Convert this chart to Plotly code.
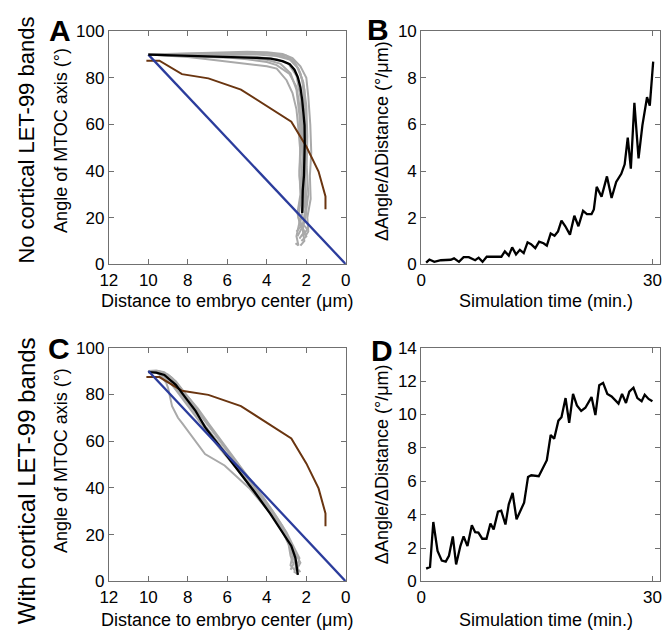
import plotly.graph_objects as go

W, H = 671, 640

# ---------------- data ----------------
# reference curves shared by A and C (distance in um, angle in deg)
brown_x = [10.1, 9.44, 8.3, 6.96, 5.31, 2.76, 2.0, 1.38, 1.03, 1.03]
brown_y = [87.4, 87.4, 81.6, 79.8, 75.0, 61.2, 50.5, 39.8, 29.1, 23.6]
blue_x = [10, 0]
blue_y = [90, 0]

# Panel A: individual simulated trajectories (gray) and mean (black)
a_gray_x = [
    [10, 8, 6, 5, 4, 3.2, 2.7, 2.3, 2.0, 1.9, 1.8, 1.75, 1.82, 1.78, 1.95, 1.9, 2.05],
    [10, 8, 6, 4.5, 3.5, 2.8, 2.4, 2.15, 2.0, 1.95, 1.98, 1.9, 2.05, 2.2, 2.0, 2.25],
    [10, 8, 6, 4.5, 3.5, 2.9, 2.5, 2.3, 2.2, 2.15, 2.2, 2.1, 2.35, 2.5, 2.4, 2.55],
    [10, 8, 6, 5, 4, 3.3, 2.8, 2.5, 2.35, 2.3, 2.35, 2.3, 2.45, 2.3, 2.5],
    [10, 8, 7, 6, 5, 4, 3.5, 3.0, 2.7, 2.5, 2.4, 2.3, 2.35, 2.25, 2.4, 2.2, 2.45],
    [10, 8, 6, 5, 4, 3.5, 2.85, 2.5, 2.35, 2.25, 2.2, 2.25, 2.15, 2.3, 2.1, 2.35],
    [10, 8, 6, 4, 3, 2.6, 2.3, 2.1, 2.05, 2.0, 2.05, 2.0, 2.2, 2.1, 2.3],
    [10, 7, 5, 3.8, 2.9, 2.45, 2.2, 2.1, 2.15, 2.05, 2.1, 2.0, 2.15, 1.95, 2.2],
]
a_gray_y = [
    [90, 90.6, 91, 91.2, 91, 90.3, 88.5, 85, 80, 72, 60, 48, 38, 28, 20, 14, 12],
    [90, 90.2, 90.3, 90, 89.4, 87.8, 84, 78, 68, 55, 42, 30, 20, 15, 12, 10],
    [90, 89.8, 89.5, 89, 88, 86, 81, 72, 60, 48, 36, 25, 18, 12, 8, 9],
    [90, 89.5, 89, 88.6, 87.8, 86, 82, 75, 64, 52, 40, 30, 22, 16, 14],
    [90, 89, 88, 87, 86, 85, 84, 79, 73.5, 66.5, 58, 48, 38, 30, 20, 16, 12],
    [90, 89.3, 88.7, 88, 86.8, 85.5, 81.7, 76.2, 68, 58, 46, 35, 26, 18, 14, 11],
    [90, 90, 90.6, 90.5, 89.5, 87, 82, 75, 63, 50, 38, 26, 16, 10, 8],
    [90, 90.4, 90.8, 90.6, 88.5, 84.5, 79, 70, 57, 44, 32, 22, 17, 15, 12],
]
a_mean_x = [10, 8, 6, 4.5, 3.8, 3.2, 2.84, 2.6, 2.43, 2.3, 2.21, 2.12, 2.09, 2.08, 2.09, 2.12, 2.18, 2.21]
a_mean_y = [90, 89.6, 89.1, 88.6, 88.3, 87.2, 85.9, 83.5, 80.3, 76, 70.6, 64, 59.6, 52, 45.7, 38, 31.8, 22]

# Panel C
c_gray_x = [
    [10, 9.6, 9.2, 8.8, 8.4, 7.9, 7.4, 6.8, 6.1, 5.4, 4.7, 4.0, 3.4, 3.0, 2.7, 2.5, 2.6, 2.4],
    [10, 9.5, 9.0, 8.6, 8.1, 7.5, 6.9, 6.2, 5.5, 4.8, 4.1, 3.5, 3.0, 2.65, 2.35, 2.5, 2.3],
    [10, 9.7, 9.3, 8.9, 8.3, 7.7, 7.1, 6.4, 5.6, 4.9, 4.2, 3.6, 3.1, 2.8, 2.7, 2.8, 2.6],
    [10, 9.4, 8.9, 8.5, 8.0, 7.5, 6.9, 6.2, 5.6, 4.9, 4.3, 3.7, 3.2, 2.9, 2.55, 2.3, 2.5],
    [10, 9.5, 9.1, 9.0, 8.8, 8.5, 8.28, 7.79, 7.13, 6.14, 5.31, 4.9, 4.5, 3.9, 3.3, 2.9, 2.6, 2.45],
    [10, 9.6, 9.1, 8.7, 8.2, 7.6, 7.0, 6.4, 5.7, 5.0, 4.3, 3.7, 3.2, 2.9, 2.8, 2.65, 2.8],
]
c_gray_y = [
    [90, 90.2, 89.5, 87, 83, 78, 72, 65, 57, 49, 41, 33, 25.5, 19, 13, 8, 4, 3],
    [90, 90, 88.5, 85.5, 80, 74, 67, 59, 51, 43, 35, 27.5, 21, 15, 10, 6, 4],
    [90, 89.7, 88.2, 85, 79.5, 73, 66, 58.5, 50, 42, 34.5, 28, 22, 17, 11, 7, 5],
    [90, 89.6, 87.5, 84, 78.5, 72.5, 66, 58, 51.5, 44, 37, 30, 23.5, 17, 12, 8, 5],
    [90, 89, 85, 82.7, 75, 70, 67.6, 62, 54.5, 49.6, 43.4, 40, 36, 30, 23, 16, 9, 4],
    [90, 89.5, 87.5, 83, 77, 70.5, 63.5, 57, 50, 42.5, 35, 28.5, 22, 16, 11, 7.5, 5],
]
c_mean_x = [10, 9.6, 9.19, 8.61, 8.12, 7.62, 7.13, 6.3, 5.48, 4.65, 3.83, 3.17, 2.76, 2.55, 2.45, 2.43]
c_mean_y = [89.5, 89.3, 88.3, 84.1, 78.6, 73.1, 66, 57, 47.6, 38.6, 29, 20.7, 15.2, 10, 5, 2.8]

# Panel B: dAngle/dDistance vs simulation time
b_t = [0.64, 1.06, 1.7, 2.55, 3.83, 4.26, 4.9, 5.5, 6.17, 7.0, 7.45, 7.96, 8.5, 10.4, 10.85,
       11.36, 11.8, 12.3, 12.8, 13.3, 13.8, 14.25, 14.8, 15.3, 15.87, 16.3, 16.8, 17.3, 17.75,
       18.2, 18.7, 19.3, 19.87, 20.4, 21.0, 21.5, 22.1, 22.4, 22.77, 23.4, 24.1, 24.7, 25.3,
       25.96, 26.4, 26.8, 27.2, 27.66, 28.2, 28.7, 29.3, 29.66, 30.1]
b_v = [0.07, 0.2, 0.1, 0.17, 0.19, 0.25, 0.1, 0.3, 0.3, 0.17, 0.28, 0.1, 0.32, 0.32, 0.55,
       0.37, 0.72, 0.42, 0.62, 0.48, 0.94, 0.86, 0.69, 0.97, 0.9, 0.8, 1.32, 1.22, 1.41,
       1.87, 1.63, 1.27, 2.08, 1.63, 2.29, 2.15, 2.15, 2.35, 3.32, 2.9, 3.77, 2.84, 3.53,
       3.88, 4.29, 5.43, 4.1, 6.93, 4.54, 5.96, 7.17, 6.81, 8.7]

# Panel D
d_t = [0.64, 1.14, 1.57, 2.12, 2.67, 3.18, 3.6, 4.1, 4.53, 5.08, 5.5, 6.0, 6.57, 7.0, 7.42,
       7.92, 8.47, 8.98, 9.4, 9.96, 10.38, 10.93, 11.36, 11.86, 12.37, 12.84, 13.35, 13.86,
       14.28, 15.25, 15.76, 16.3, 16.8, 17.25, 17.8, 18.2, 18.73, 19.2, 19.7, 20.2, 20.76,
       21.3, 22.1, 22.6, 23.1, 23.6, 24.15, 24.7, 25.6, 26.06, 26.57, 27.0, 27.54, 28.05,
       28.6, 29.0, 29.5, 30.0]
d_v = [0.77, 0.87, 3.56, 1.83, 1.25, 1.19, 1.54, 2.7, 1.02, 2.12, 2.7, 2.12, 3.37, 2.95, 2.93,
       2.56, 2.56, 3.47, 3.12, 4.18, 4.24, 3.41, 4.62, 5.3, 3.72, 4.24, 4.72, 6.26,
       6.36, 6.3, 6.74, 7.26, 8.77, 8.54, 9.63, 9.83, 10.98, 9.5, 11.23, 10.54, 10.21,
       10.4, 11.04, 9.96, 11.75, 11.89, 11.23, 11.08, 10.65, 11.23, 10.69, 11.37, 11.6, 10.98,
       10.79, 11.18, 10.93, 10.79]

xticks_dist = [0, 2, 4, 6, 8, 10, 12]
yticks_angle = [0, 20, 40, 60, 80, 100]
xticks_time = [0, 30]
yticks_b = [0, 2, 4, 6, 8, 10]
yticks_d = [0, 2, 4, 6, 8, 10, 12, 14]

# ---------------- colours / styles ----------------
GRAY = "#a9a9a9"
BLACK = "#000000"
BROWN = "#6a3510"
BLUE = "#2b3c9c"
FONT = "Liberation Sans, Arial, sans-serif"

fig = go.Figure()

def add(x, y, xa, ya, color, width):
    fig.add_trace(go.Scatter(x=x, y=y, mode="lines", xaxis=xa, yaxis=ya,
                             line=dict(color=color, width=width),
                             showlegend=False, hoverinfo="skip"))

for xs, ys in zip(a_gray_x, a_gray_y):
    add(xs, ys, "x", "y", GRAY, 2)
add(brown_x, brown_y, "x", "y", BROWN, 2)
add(blue_x, blue_y, "x", "y", BLUE, 2.3)
add(a_mean_x, a_mean_y, "x", "y", BLACK, 2.3)

add(b_t, b_v, "x2", "y2", BLACK, 2.3)

for xs, ys in zip(c_gray_x, c_gray_y):
    add(xs, ys, "x3", "y3", GRAY, 2)
add(brown_x, brown_y, "x3", "y3", BROWN, 2)
add(c_mean_x, c_mean_y, "x3", "y3", BLACK, 2.3)
add(blue_x, blue_y, "x3", "y3", BLUE, 2.3)

add(d_t, d_v, "x4", "y4", BLACK, 2.3)

def px_x(a, b):
    return [a / W, b / W]

def px_y(top, bottom):
    return [1 - bottom / H, 1 - top / H]

axis_style = dict(showline=True, linecolor="#707070", linewidth=1, mirror="ticks",
                  ticks="inside", ticklen=5, tickcolor="#707070", showgrid=False,
                  zeroline=False, tickfont=dict(family=FONT, size=17, color="black"))

left_dom = px_x(102, 344)
right_dom = px_x(421, 665)
top_dom = px_y(23, 263)
bot_dom = px_y(349, 590)

fig.update_layout(
    width=W, height=H, margin=dict(l=0, r=0, t=0, b=0),
    paper_bgcolor="white", plot_bgcolor="white",
    xaxis=dict(domain=left_dom, range=[12, 0], tickvals=xticks_dist, anchor="y", **axis_style),
    yaxis=dict(domain=top_dom, range=[0, 100], tickvals=yticks_angle, anchor="x", **axis_style),
    xaxis2=dict(domain=right_dom, range=[0, 31], tickvals=xticks_time, anchor="y2", **axis_style),
    yaxis2=dict(domain=top_dom, range=[0, 10], tickvals=yticks_b, anchor="x2", **axis_style),
    xaxis3=dict(domain=left_dom, range=[12, 0], tickvals=xticks_dist, anchor="y3", **axis_style),
    yaxis3=dict(domain=bot_dom, range=[0, 100], tickvals=yticks_angle, anchor="x3", **axis_style),
    xaxis4=dict(domain=right_dom, range=[0, 31], tickvals=xticks_time, anchor="y4", **axis_style),
    yaxis4=dict(domain=bot_dom, range=[0, 14], tickvals=yticks_d, anchor="x4", **axis_style),
)

def ann(text, xpx, ypx, size, angle=0, bold=False):
    fig.add_annotation(text=f"<b>{text}</b>" if bold else text,
                       x=xpx / W, y=1 - ypx / H, xref="paper", yref="paper",
                       xanchor="center", yanchor="middle", showarrow=False,
                       textangle=angle, font=dict(family=FONT, size=size, color="black"))

# panel letters
ann("A", 52, 22, 30, bold=True)
ann("B", 377, 21, 30, bold=True)
ann("C", 51, 350, 30, bold=True)
ann("D", 381, 352, 30, bold=True)

# row labels
ann("No cortical LET-99 bands", 18, 135, 22, angle=-90)
ann("With cortical LET-99 bands", 18, 486, 24, angle=-90)

# axis titles
ann("Angle of MTOC axis (°)", 53, 135, 18, angle=-90)
ann("Angle of MTOC axis (°)", 53, 465, 18, angle=-90)
ann("ΔAngle/ΔDistance (°/μm)", 381, 136, 18, angle=-90)
ann("ΔAngle/ΔDistance (°/μm)", 381, 469, 18, angle=-90)
ann("Distance to embryo center (μm)", 223, 301, 18)
ann("Distance to embryo center (μm)", 223, 630, 18)
ann("Simulation time (min.)", 548, 301, 18)
ann("Simulation time (min.)", 548, 630, 18)

fig.write_html("out.html")
